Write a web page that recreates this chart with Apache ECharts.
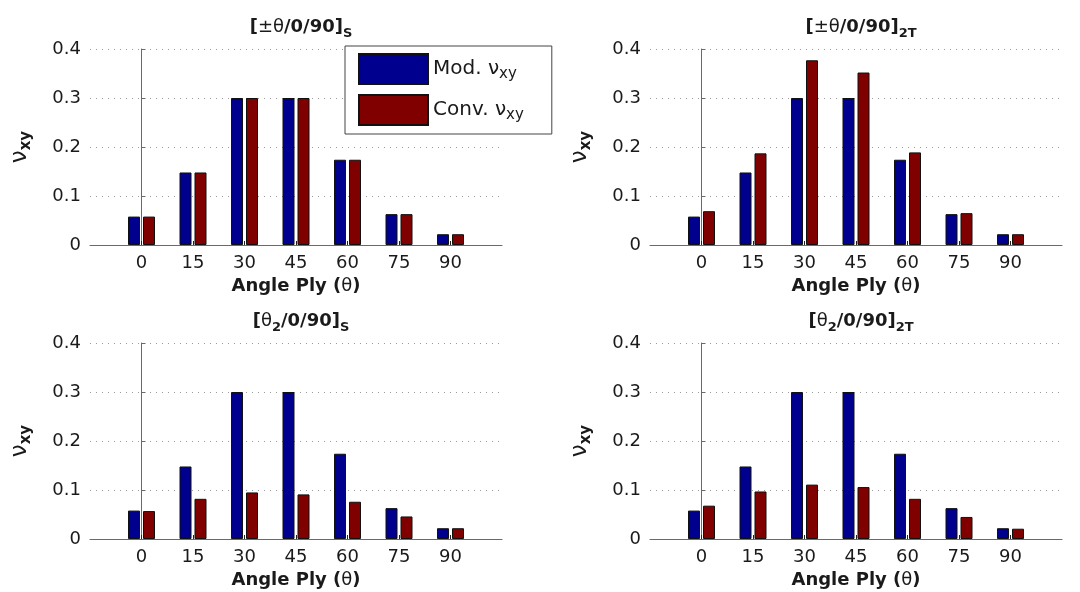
<!DOCTYPE html>
<html>
<head>
<meta charset="utf-8">
<title>Poisson's ratio vs angle ply</title>
<script src="https://cdn.jsdelivr.net/npm/echarts@6/dist/echarts.min.js"></script>
<style>
  html, body { margin: 0; padding: 0; background: #fff; }
  #chart { width: 1080px; height: 592px; }
</style>
</head>
<body>
<div id="chart"></div>
<script>
// Ply angles (degrees) and y-axis ticks
const angles = [0, 15, 30, 45, 60, 75, 90];
const yTicks = [0, 0.1, 0.2, 0.3, 0.4];

// Modified Poisson's ratio (identical for every layup)
const modNu = [0.058, 0.148, 0.300, 0.300, 0.174, 0.063, 0.022];

// Conventional Poisson's ratio, one array per layup
const convPmS = [0.058, 0.148, 0.300, 0.300, 0.174, 0.063, 0.022];
const convPm2T = [0.069, 0.187, 0.377, 0.352, 0.189, 0.065, 0.022];
const convT2S = [0.057, 0.082, 0.095, 0.091, 0.076, 0.046, 0.022];
const convT22T = [0.068, 0.097, 0.111, 0.106, 0.082, 0.045, 0.021];

const panels = [
  { title: '{b|[}{n|±θ}{b|/0/90]}{s|S}', conv: convPmS, left: 90, top: 49 },
  { title: '{b|[}{n|±θ}{b|/0/90]}{s|2T}', conv: convPm2T, left: 650, top: 49 },
  { title: '{b|[}{n|θ}{s|2}{b|/0/90]}{s|S}', conv: convT2S, left: 90, top: 343 },
  { title: '{b|[}{n|θ}{s|2}{b|/0/90]}{s|2T}', conv: convT22T, left: 650, top: 343 }
];

const FONT = 'DejaVu Sans';
const TEXT = '#1a1a1a';
const AXIS = '#6a6a6a';
const BLUE = '#00008f';
const RED = '#800000';
const GRID_W = 412, GRID_H = 196;

const subRich = {
  b: { fontFamily: FONT, fontSize: 18, fontWeight: 'bold', color: TEXT, lineHeight: 26 },
  n: { fontFamily: FONT, fontSize: 18, fontWeight: 'normal', color: TEXT, lineHeight: 26 },
  s: { fontFamily: FONT, fontSize: 13, fontWeight: 'bold', color: TEXT, lineHeight: 12, verticalAlign: 'bottom' }
};

const option = {
  backgroundColor: '#fff',
  animation: false,
  title: panels.map(p => ({
    text: p.title,
    left: p.left + GRID_W / 2,
    top: p.top - 40,
    textAlign: 'center',
    textStyle: { rich: subRich }
  })),
  legend: {
    left: 345,
    top: 46,
    orient: 'vertical',
    data: ['Mod', 'Conv'],
    itemWidth: 69,
    itemHeight: 30,
    itemGap: 9,
    padding: [7, 28, 8, 13],
    borderColor: '#444',
    borderWidth: 1,
    backgroundColor: '#fff',
    icon: 'rect',
    z: 10,
    formatter: name => name === 'Mod' ? '{n|Mod. ν}{s|xy}' : '{n|Conv. ν}{s|xy}',
    textStyle: {
      rich: {
        n: { fontFamily: FONT, fontSize: 20, color: TEXT, lineHeight: 26 },
        s: { fontFamily: FONT, fontSize: 15, color: TEXT, lineHeight: 12, verticalAlign: 'bottom' }
      }
    }
  },
  grid: panels.map(p => ({
    left: p.left, top: p.top, width: GRID_W, height: GRID_H,
    containLabel: false, outerBoundsMode: 'none'
  })),
  xAxis: panels.map((p, i) => ({
    type: 'value',
    gridIndex: i,
    min: -15,
    max: 105,
    interval: 15,
    name: '{b|Angle Ply (}{n|θ}{b|)}',
    nameLocation: 'middle',
    nameGap: 28,
    nameTextStyle: { rich: subRich },
    axisLine: { show: true, onZero: false, lineStyle: { color: AXIS, width: 1 } },
    axisTick: { show: true, inside: true, length: 4, customValues: angles, lineStyle: { color: '#222' } },
    axisLabel: { customValues: angles, margin: 9, fontFamily: FONT, fontSize: 18, color: TEXT },
    splitLine: { show: false }
  })),
  yAxis: panels.map((p, i) => ({
    type: 'value',
    gridIndex: i,
    min: 0,
    max: 0.4,
    interval: 0.1,
    name: '{n|ν}{s|xy}',
    nameLocation: 'middle',
    nameRotate: 90,
    nameGap: 56,
    nameTextStyle: {
      rich: {
        n: { fontFamily: FONT, fontSize: 23, color: TEXT, lineHeight: 28 },
        s: { fontFamily: FONT, fontSize: 15, fontWeight: 'bold', color: TEXT, lineHeight: 12, verticalAlign: 'bottom' }
      }
    },
    axisLine: { show: true, lineStyle: { color: AXIS, width: 1 } },
    axisTick: { show: true, inside: true, length: 4, lineStyle: { color: AXIS } },
    axisLabel: {
      margin: 9, fontFamily: FONT, fontSize: 18, color: TEXT,
      customValues: yTicks,
      formatter: v => v === 0 ? '0' : v.toFixed(1)
    },
    splitLine: { show: true, lineStyle: { color: '#9a9a9a', width: 1, type: [1, 5] } }
  })),
  series: panels.flatMap((p, i) => [
    {
      name: 'Mod',
      type: 'bar',
      xAxisIndex: i,
      yAxisIndex: i,
      barWidth: 12,
      barGap: '25%',
      itemStyle: { color: BLUE, borderColor: '#111', borderWidth: 1 },
      data: angles.map((a, k) => [a, modNu[k]])
    },
    {
      name: 'Conv',
      type: 'bar',
      xAxisIndex: i,
      yAxisIndex: i,
      barWidth: 12,
      barGap: '25%',
      itemStyle: { color: RED, borderColor: '#111', borderWidth: 1 },
      data: angles.map((a, k) => [a, p.conv[k]])
    }
  ])
};

const chart = echarts.init(document.getElementById('chart'), null, { renderer: 'canvas' });
chart.setOption(option);
</script>
</body>
</html>
